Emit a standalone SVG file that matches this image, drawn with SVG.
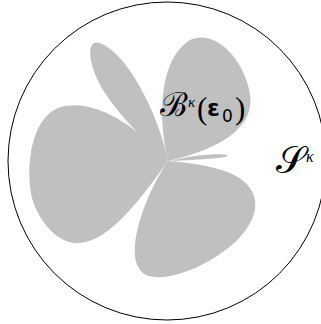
<svg xmlns="http://www.w3.org/2000/svg" width="321" height="324" viewBox="0 0 321 324">
<style>
.petal{fill:#c0c0c0;stroke:none}
.lbl{font-family:"DejaVu Serif","Liberation Serif",serif;fill:#000}
</style>
<rect width="321" height="324" fill="#fff"/>
<g id="sphere">
<circle cx="167" cy="161" r="159" fill="none" stroke="#000" stroke-width="1"/>
</g>
<g id="ball">
<path class="petal" d="M168,161 C160,120 130,55 100,43 C85,38 88,65 103,90 C122,120 150,145 168,161 Z"/>
<path class="petal" d="M168,161 C158,120 158,60 190,40 C215,28 245,60 250,95 C255,130 215,150 168,161 Z"/>
<path class="petal" d="M170,161 C190,156 215,153 227,155 C231,157 215,159 170,161 Z"/>
<path class="petal" d="M168,161 C140,130 100,100 65,106 C30,112 25,170 32,198 C40,225 60,245 80,243 C110,240 140,200 168,161 Z"/>
<path class="petal" d="M168,161 C145,195 125,250 140,270 C155,290 215,265 240,237 C265,210 258,185 230,173 C210,165 185,162 168,161 Z"/>
</g>
<g id="label-B">
<text class="lbl" y="116" font-size="24"><tspan x="160" font-size="33">ℬ</tspan><tspan x="188" y="107" font-size="15" font-style="italic" font-family="Liberation Serif">κ</tspan><tspan x="197" y="119" font-family="Liberation Serif" font-size="31">(</tspan><tspan x="207" y="116" font-weight="bold" font-family="DejaVu Sans" font-size="23">ε</tspan><tspan x="222" y="122" font-size="17" font-family="DejaVu Sans">0</tspan><tspan x="235" y="119" font-family="Liberation Serif" font-size="31">)</tspan></text>
</g>
<g id="label-S">
<text class="lbl" y="173" font-size="38"><tspan x="276">𝒮</tspan><tspan x="306" y="162" font-size="16" font-style="italic" font-family="Liberation Serif">κ</tspan></text>
</g>
</svg>
